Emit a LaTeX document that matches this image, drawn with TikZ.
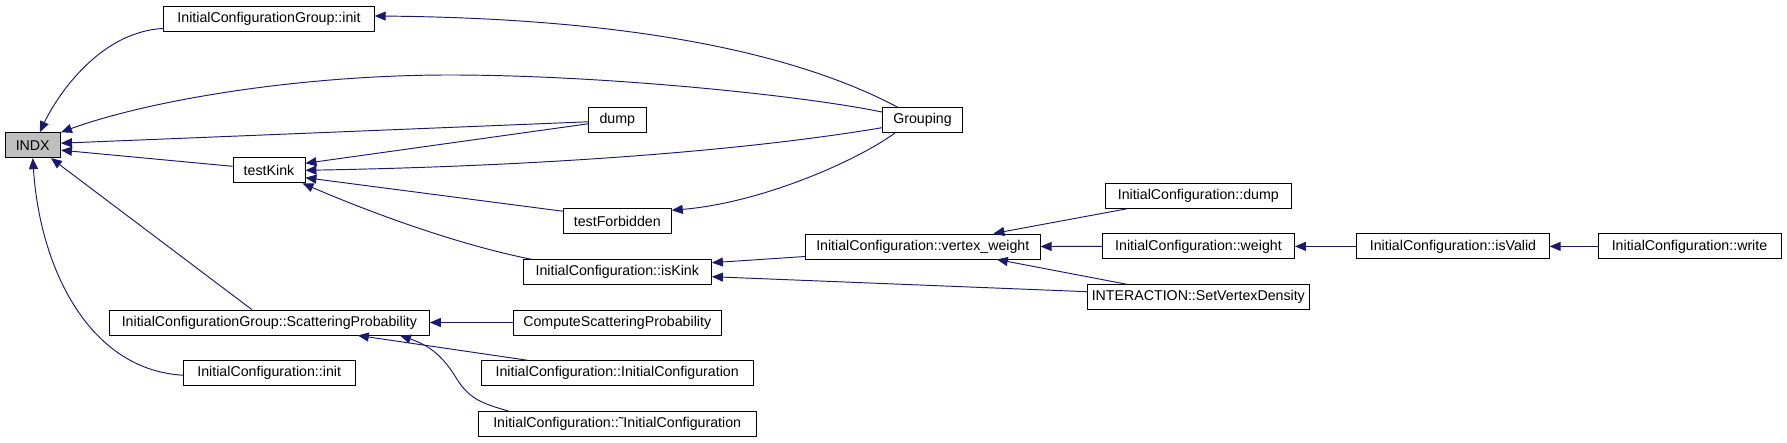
\documentclass[tikz,border=0pt]{standalone}
\usepackage{fontspec}
\setmainfont{Liberation Sans}
\usetikzlibrary{arrows.meta}
\definecolor{edgeblue}{HTML}{191970}
\definecolor{curgray}{HTML}{BFBFBF}
\tikzset{
  fnbox/.style={draw=black, line width=0.9pt, fill=white, inner sep=0pt, minimum height=25pt,
    font=\fontsize{14.2}{16}\selectfont, anchor=center},
  callarrow/.style={draw=edgeblue, line width=0.95pt, {Triangle[length=11pt,width=9pt]}-}
}
\begin{document}
\begin{tikzpicture}[x=1pt,y=-1pt]
\useasboundingbox (0,0) rectangle (1787,443);
% nodes
\node[fnbox, fill=curgray, minimum width=55.5pt] (indx) at (32.75,145.2) {INDX};
\node[fnbox, minimum width=210.5pt] (icginit) at (269,18.5) {InitialConfigurationGroup::init};
\node[fnbox, minimum width=57.5pt] (dump) at (617.3,119.8) {dump};
\node[fnbox, minimum width=80pt] (grouping) at (922.5,120) {Grouping};
\node[fnbox, minimum width=72pt] (testkink) at (269,170.3) {testKink};
\node[fnbox, minimum width=108pt] (testforbidden) at (617.3,221.2) {testForbidden};
\node[fnbox, minimum width=188.3pt] (iskink) at (617.3,272.3) {InitialConfiguration::isKink};
\node[fnbox, minimum width=234.6pt] (vertexweight) at (922.8,246.5) {InitialConfiguration::vertex\_weight};
\node[fnbox, minimum width=186.6pt] (icdump) at (1198.3,195.8) {InitialConfiguration::dump};
\node[fnbox, minimum width=191.8pt] (icweight) at (1198.5,246.4) {InitialConfiguration::weight};
\node[fnbox, minimum width=192.3pt] (isvalid) at (1453,246.4) {InitialConfiguration::isValid};
\node[fnbox, minimum width=183pt] (write) at (1689.5,246.4) {InitialConfiguration::write};
\node[fnbox, minimum width=221.4pt] (setvd) at (1198.3,297.3) {INTERACTION::SetVertexDensity};
\node[fnbox, minimum width=320pt] (scat) at (269.4,322.5) {InitialConfigurationGroup::ScatteringProbability};
\node[fnbox, minimum width=208.2pt] (compscat) at (617.2,322.5) {ComputeScatteringProbability};
\node[fnbox, minimum width=171.8pt] (icinit) at (269.2,373.2) {InitialConfiguration::init};
\node[fnbox, minimum width=271.7pt] (icic) at (617.2,373.2) {InitialConfiguration::InitialConfiguration};
\node[fnbox, minimum width=278.5pt] (icdtor) at (617.2,424) {InitialConfiguration::˜InitialConfiguration};
% edges (arrow tip at the callee)
\draw[callarrow] ([xshift=7pt]indx.north) .. controls (55,100) and (97,32) .. ([yshift=3pt]icginit.south west);
\draw[callarrow] (indx.north east) .. controls (150,100) and (300,75) .. (450,75) .. controls (600,75) and (800,95) .. ([yshift=-5pt]grouping.north west);
\draw[callarrow] ([yshift=2pt]indx.east) -- ([yshift=-2pt]dump.west);
\draw[callarrow] ([yshift=-5pt]indx.east) -- ([yshift=4pt]testkink.west);
\draw[callarrow] ([xshift=-10pt]indx.south east) -- ([xshift=-17.6pt]scat.north);
\draw[callarrow] (indx.south) .. controls (40,270) and (90,370) .. ([yshift=-2pt]icinit.west);
\draw[callarrow] ([yshift=7pt]testkink.east) -- ([yshift=-4pt]dump.west);
\draw[callarrow] (testkink.east) .. controls (550,166) and (750,150) .. ([yshift=-7.7pt]grouping.west);
\draw[callarrow] ([yshift=-7.4pt]testkink.east) -- ([yshift=-3pt]testforbidden.north west);
\draw[callarrow] ([xshift=-3pt]testkink.south east) .. controls (360,208) and (450,243) .. ([xshift=9pt]iskink.north west);
\draw[callarrow] ([yshift=-2pt]testforbidden.north east) .. controls (760,203) and (855,162) .. ([xshift=13pt]grouping.south west);
\draw[callarrow] ([yshift=2.5pt]icginit.east) .. controls (600,18) and (780,45) .. ([xshift=15.3pt]grouping.north west);
\draw[callarrow] (scat.east) -- (compscat.west);
\draw[callarrow] ([xshift=88.4pt]scat.south) -- ([xshift=46.6pt]icic.north west);
\draw[callarrow] ([xshift=130.6pt]scat.south) .. controls (425,344) and (440,352) .. (455,376) .. controls (468,398) and (480,403) .. ([xshift=31pt]icdtor.north west);
\draw[callarrow] ([yshift=9.6pt]iskink.east) -- ([yshift=-10pt]vertexweight.west);
\draw[callarrow] ([yshift=-4.4pt]iskink.east) -- ([yshift=5.6pt]setvd.west);
\draw[callarrow] ([xshift=70.6pt]vertexweight.north) -- ([xshift=22.6pt]icdump.south west);
\draw[callarrow] (vertexweight.east) -- (icweight.west);
\draw[callarrow] ([xshift=74pt]vertexweight.south) -- ([xshift=40pt]setvd.north west);
\draw[callarrow] (icweight.east) -- (isvalid.west);
\draw[callarrow] (isvalid.east) -- (write.west);
\end{tikzpicture}
\end{document}
